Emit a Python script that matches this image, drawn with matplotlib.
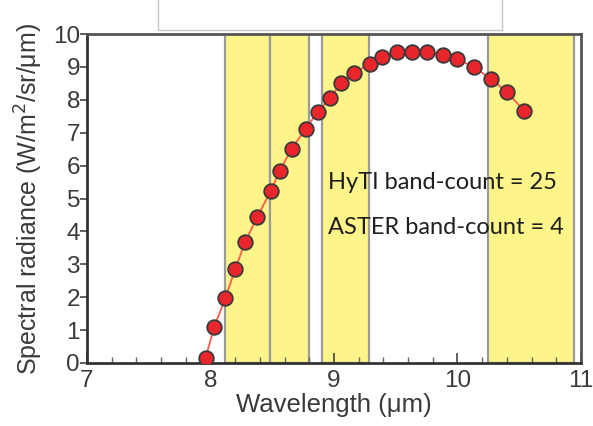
import matplotlib.pyplot as plt
from matplotlib.lines import Line2D
from matplotlib.ticker import MultipleLocator

plt.rcParams['font.family'] = ['Liberation Sans', 'DejaVu Sans']

# HyTI band centres and at-sensor radiance
wavelength = [7.96, 8.03, 8.12, 8.20, 8.28, 8.38, 8.49, 8.56, 8.66, 8.77,
              8.87, 8.97, 9.06, 9.16, 9.29, 9.39, 9.51, 9.63, 9.75, 9.88,
              10.00, 10.13, 10.27, 10.40, 10.54]
radiance = [0.15, 1.09, 1.97, 2.85, 3.67, 4.45, 5.24, 5.85, 6.52, 7.12,
            7.64, 8.06, 8.52, 8.82, 9.09, 9.30, 9.45, 9.45, 9.45, 9.36,
            9.24, 9.00, 8.64, 8.24, 7.67]

# ASTER TIR bands (start, end) in um
aster_start = [8.12, 8.48, 8.90, 10.25]
aster_end = [8.48, 8.80, 9.28, 10.94]

labels = ['HyTI band-count = 25', 'ASTER band-count = 4']

fig = plt.figure(figsize=(5.93, 4.26), dpi=100)
ax = fig.add_axes([0.1467, 0.148, 0.833, 0.772])

for x0, x1 in zip(aster_start, aster_end):
    ax.axvspan(x0, x1, facecolor='#fdf58a', edgecolor='#9a9a9a', linewidth=1.6, zorder=0)

ax.plot(wavelength, radiance, color='#ff5a4a', linewidth=1.3, zorder=2)
ax.plot(wavelength, radiance, linestyle='none', marker='o', markersize=10.5,
        markerfacecolor='#e8262b', markeredgecolor='#3a3a3a', markeredgewidth=1.3, zorder=3)

ax.set_xlim(7, 11)
ax.set_ylim(0, 10)
ax.xaxis.set_major_locator(MultipleLocator(1))
ax.xaxis.set_minor_locator(MultipleLocator(0.2))
ax.yaxis.set_major_locator(MultipleLocator(1))

ax.tick_params(axis='x', which='major', direction='in', length=7, width=1.2,
               color='#444444', labelsize=17.5, labelcolor='#3a3a3a', pad=5)
ax.tick_params(axis='x', which='minor', direction='in', length=4, width=1,
               color='#666666')
ax.tick_params(axis='y', which='major', direction='out', length=5, width=1.2,
               color='#444444', labelsize=17.5, labelcolor='#3a3a3a', pad=0)

for side in ['left', 'bottom']:
    ax.spines[side].set_color('#333333')
    ax.spines[side].set_linewidth(2)
for side in ['top', 'right']:
    ax.spines[side].set_color('#555555')
    ax.spines[side].set_linewidth(2)

ax.set_xlabel('Wavelength (\u03bcm)', fontsize=18.5, color='#3a3a3a', labelpad=1)
ax.set_ylabel('Spectral radiance (W/m$^2$/sr/\u03bcm)', fontsize=18,
              color='#3a3a3a', labelpad=6)

ax.text(8.95, 5.5, labels[0], fontsize=17, family='Lato', color='#1e1e1e',
        ha='left', va='center')
ax.text(8.95, 4.12, labels[1], fontsize=17, family='Lato', color='#1e1e1e',
        ha='left', va='center')

# thin grey box outline poking into the top of the picture
fig.add_artist(Line2D([158 / 593, 158 / 593, 502 / 593, 502 / 593],
                      [1.0, 1 - 30 / 426, 1 - 30 / 426, 1.0],
                      color='#c8c8c8', linewidth=1))

fig.savefig('out.png', dpi=100)
